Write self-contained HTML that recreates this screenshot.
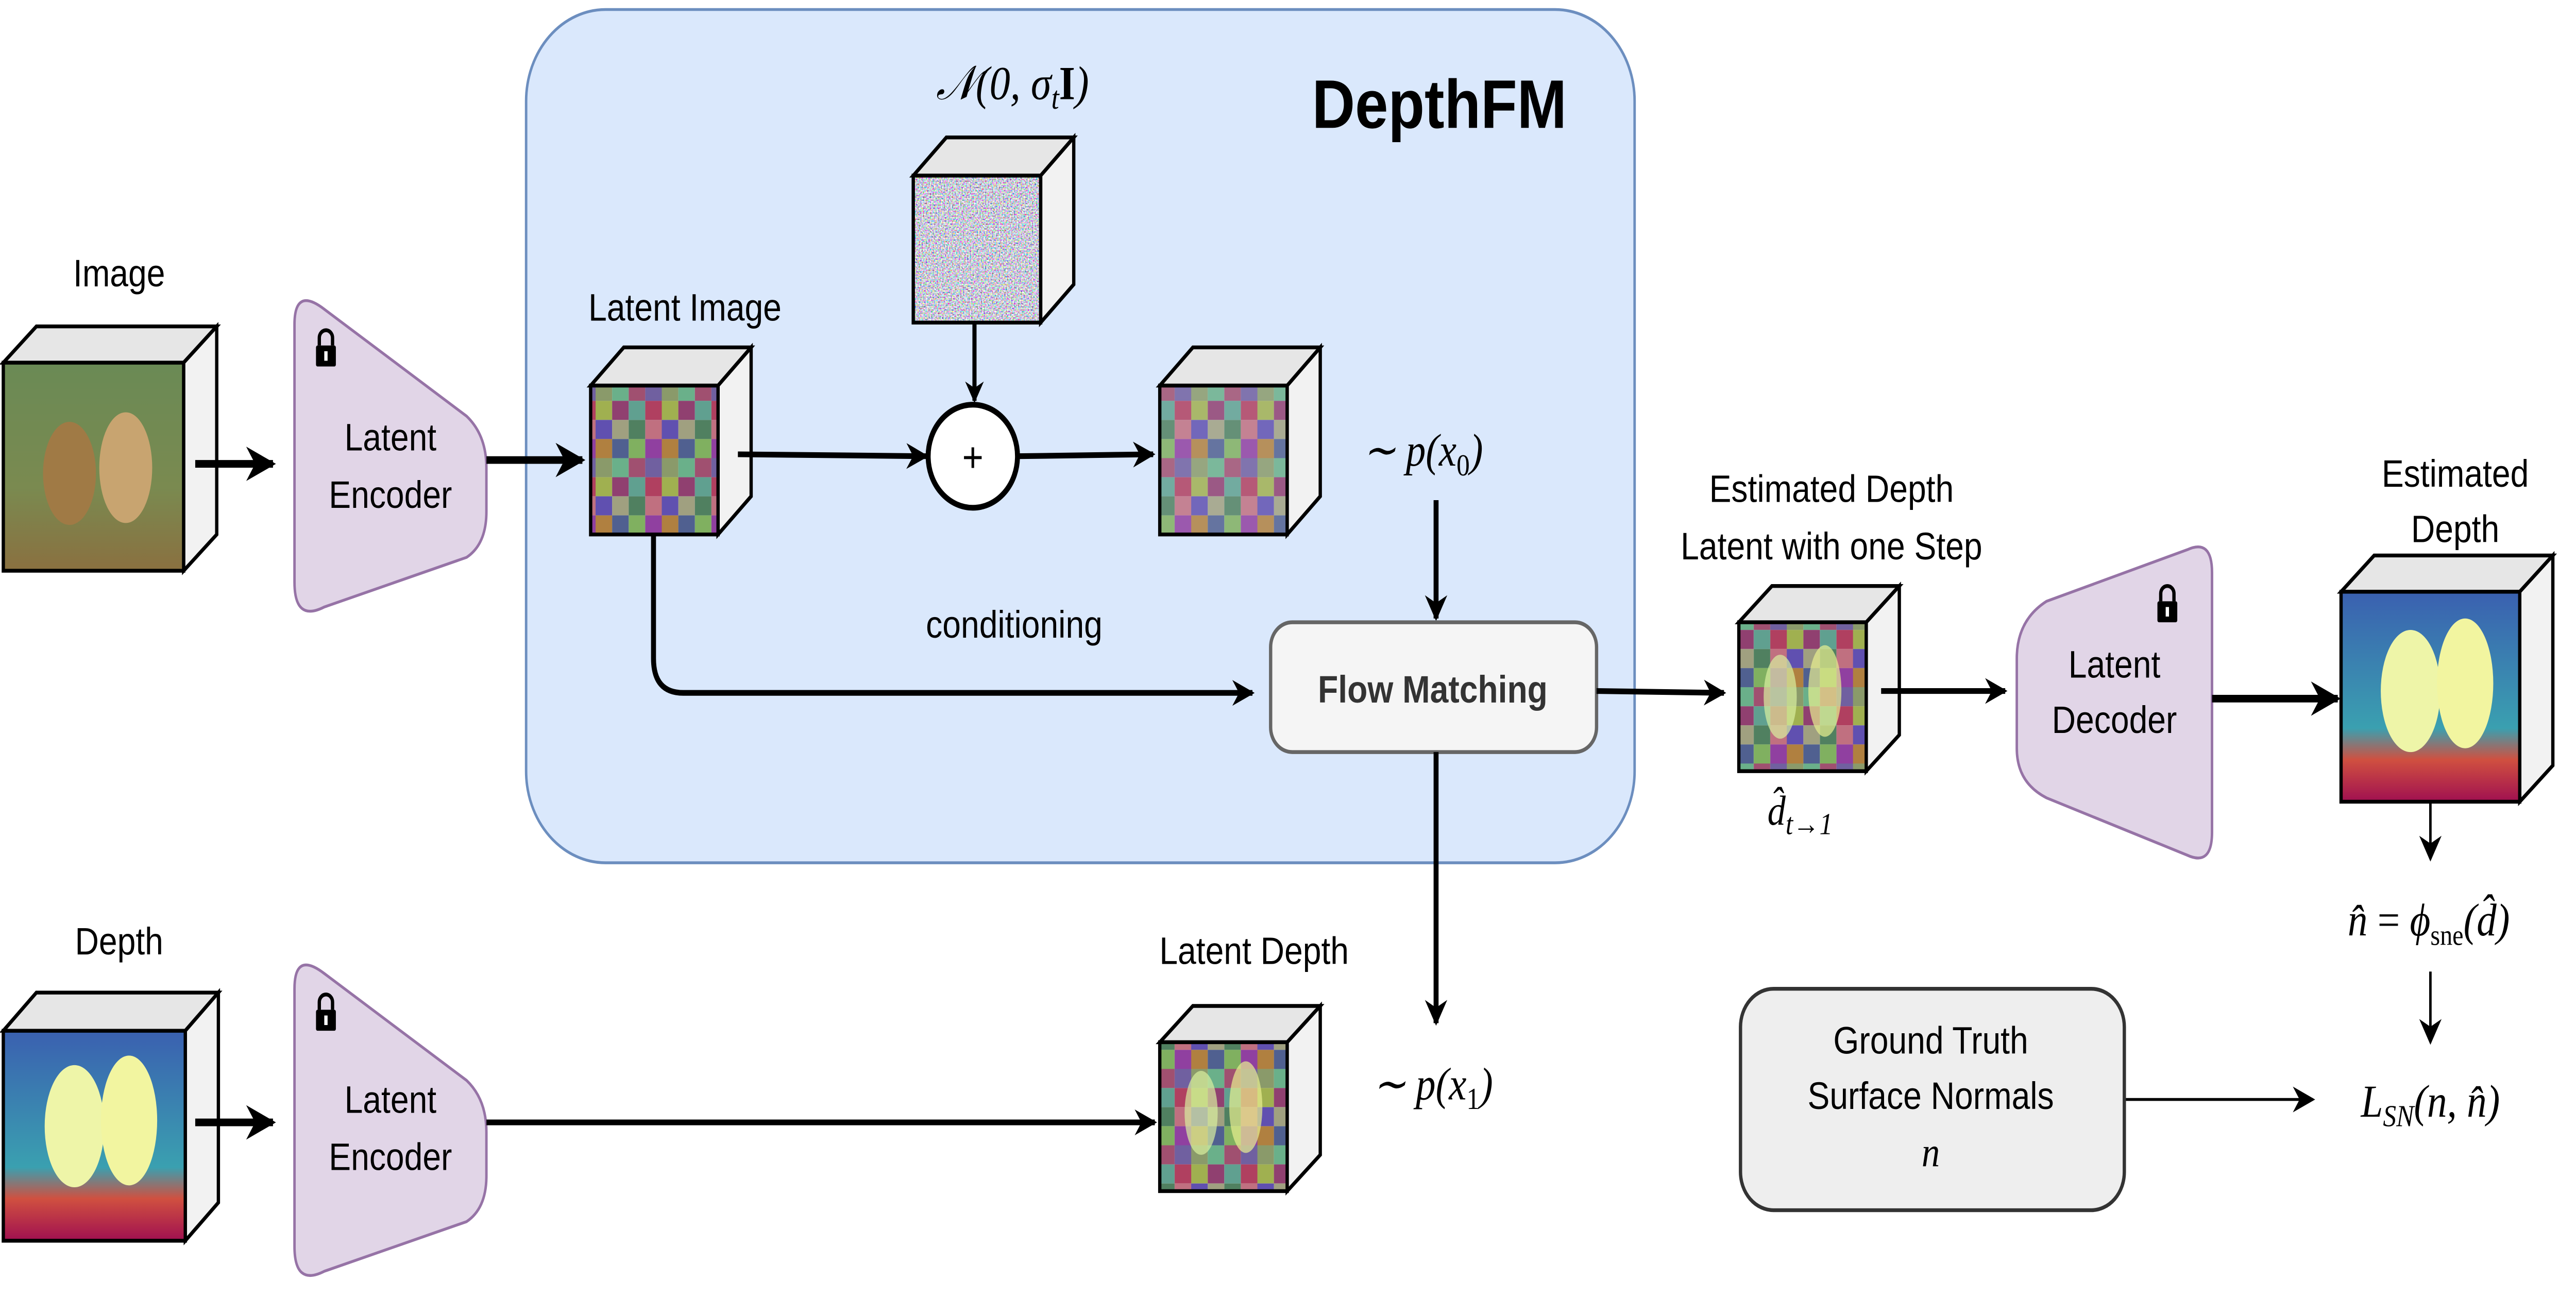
<!DOCTYPE html>
<html><head><meta charset="utf-8"><style>
html,body{margin:0;padding:0;background:#fff;width:100%;height:100%;overflow:hidden}
svg{display:block;position:absolute;left:0;top:0;width:100vw;height:100vh}
text{font-family:"Liberation Sans",sans-serif}
.m{font-family:"Liberation Serif",serif;font-style:italic}
</style></head><body>
<svg viewBox="0 0 1557 680" preserveAspectRatio="none" xmlns="http://www.w3.org/2000/svg">
<defs>
<marker id="ah" viewBox="0 0 10 10" refX="9" refY="5" markerWidth="4.5" markerHeight="4.5" orient="auto" markerUnits="strokeWidth"><path d="M0,0 L10,5 L0,10 L3,5z" fill="#000"/></marker>
<marker id="ah2" viewBox="0 0 10 10" refX="9" refY="5" markerWidth="9" markerHeight="9" orient="auto" markerUnits="strokeWidth"><path d="M0,0 L10,5 L0,10 L3,5z" fill="#000"/></marker>
<pattern id="grid" width="40" height="40" patternUnits="userSpaceOnUse">
<rect width="10" height="10" fill="#8a9a6a"/><rect x="10" width="10" height="10" fill="#6ab08a"/><rect x="20" width="10" height="10" fill="#a05070"/><rect x="30" width="10" height="10" fill="#7060a0"/>
<rect y="10" width="10" height="10" fill="#a0b050"/><rect x="10" y="10" width="10" height="10" fill="#904070"/><rect x="20" y="10" width="10" height="10" fill="#60a090"/><rect x="30" y="10" width="10" height="10" fill="#b04060"/>
<rect y="20" width="10" height="10" fill="#6050b0"/><rect x="10" y="20" width="10" height="10" fill="#a0a080"/><rect x="20" y="20" width="10" height="10" fill="#508060"/><rect x="30" y="20" width="10" height="10" fill="#c07080"/>
<rect y="30" width="10" height="10" fill="#b08040"/><rect x="10" y="30" width="10" height="10" fill="#506090"/><rect x="20" y="30" width="10" height="10" fill="#80b060"/><rect x="30" y="30" width="10" height="10" fill="#9040a0"/>
</pattern>
<filter id="noise" x="0" y="0" width="100%" height="100%"><feTurbulence type="fractalNoise" baseFrequency="1.2" numOctaves="1" seed="3"/><feColorMatrix type="matrix" values="2.2 0 0 0 -0.5  0 2.2 0 0 -0.5  0 0 2.2 0 -0.4  0 0 0 0 1"/></filter>
<linearGradient id="img" x1="0" y1="0" x2="0" y2="1"><stop offset="0" stop-color="#6a8a55"/><stop offset="0.6" stop-color="#7a8a50"/><stop offset="1" stop-color="#8a7040"/></linearGradient>
<linearGradient id="dep" x1="0" y1="0" x2="0" y2="1"><stop offset="0" stop-color="#3a60b0"/><stop offset="0.65" stop-color="#3aa0b0"/><stop offset="0.8" stop-color="#d05040"/><stop offset="1" stop-color="#a01050"/></linearGradient>
<g id="lock"><path d="M-4,-2 v-4 a4,4 0 0 1 8,0 v4" fill="none" stroke="#000" stroke-width="2"/><rect x="-6" y="-2" width="12" height="11" rx="1" fill="#000"/><rect x="-1" y="1" width="2" height="5" fill="#fff"/></g>
</defs>

<rect x="318" y="5" width="670" height="447" rx="48" fill="#dae8fc" stroke="#6c8ebf" stroke-width="1.5"/>
<text x="870" y="67" font-size="36" font-weight="bold" text-anchor="middle">DepthFM</text>
<text x="612" y="52" font-size="25" text-anchor="middle" class="m">𝒩(0, σ<tspan font-size="17" dy="5">t</tspan><tspan dy="-5" font-style="normal" font-weight="bold">I</tspan>)</text>

<polygon points="2,190 22,171 131,171 111,190" fill="#e6e6e6" stroke="#000" stroke-width="2"/>
<polygon points="111,190 131,171 131,280 111,299" fill="#f2f2f2" stroke="#000" stroke-width="2"/>
<rect x="2" y="190" width="109" height="109" fill="url(#img)" stroke="#000" stroke-width="2"/>
<ellipse cx="42" cy="248" rx="16" ry="27" fill="#a07a45"/><ellipse cx="76" cy="245" rx="16" ry="29" fill="#c8a470"/>
<text x="72" y="150" font-size="20" text-anchor="middle">Image</text>
<line x1="118" y1="243" x2="165" y2="243" stroke="#000" stroke-width="4" marker-end="url(#ah)"/>

<path d="M178,170 Q178,150 196,162 L282,218 Q294,228 294,245 L294,268 Q294,285 282,292 L196,318 Q178,326 178,305 Z" fill="#e1d5e7" stroke="#9673a6" stroke-width="1.5"/>
<use href="#lock" x="197" y="183"/>
<text x="236" y="236" font-size="20" text-anchor="middle">Latent</text>
<text x="236" y="266" font-size="20" text-anchor="middle">Encoder</text>
<line x1="294" y1="241" x2="352" y2="241" stroke="#000" stroke-width="4" marker-end="url(#ah)"/>

<text x="414" y="168" font-size="20" text-anchor="middle">Latent Image</text>
<polygon points="357,202 377,182 454,182 434,202" fill="#e6e6e6" stroke="#000" stroke-width="2"/>
<polygon points="434,202 454,182 454,260 434,280" fill="#f2f2f2" stroke="#000" stroke-width="2"/>
<rect x="357" y="202" width="77" height="78" fill="url(#grid)" stroke="#000" stroke-width="2"/>

<polygon points="552,92 572,72 649,72 629,92" fill="#e6e6e6" stroke="#000" stroke-width="2"/>
<polygon points="629,92 649,72 649,149 629,169" fill="#f2f2f2" stroke="#000" stroke-width="2"/>
<rect x="552" y="92" width="77" height="77" fill="#8a7a90" filter="url(#noise)"/>
<rect x="552" y="92" width="77" height="77" fill="none" stroke="#000" stroke-width="2"/>
<line x1="589" y1="169" x2="589" y2="210" stroke="#000" stroke-width="2.5" marker-end="url(#ah)"/>

<line x1="446" y1="238" x2="560" y2="239" stroke="#000" stroke-width="3" marker-end="url(#ah)"/>
<circle cx="588" cy="239" r="27" fill="#fff" stroke="#000" stroke-width="3"/>
<text x="588" y="247" font-size="22" text-anchor="middle">+</text>
<line x1="615" y1="239" x2="697" y2="238" stroke="#000" stroke-width="3" marker-end="url(#ah)"/>

<polygon points="701,202 721,182 798,182 778,202" fill="#e6e6e6" stroke="#000" stroke-width="2"/>
<polygon points="778,202 798,182 798,260 778,280" fill="#f2f2f2" stroke="#000" stroke-width="2"/>
<rect x="701" y="202" width="77" height="78" fill="url(#grid)" opacity="0.85"/>
<rect x="701" y="202" width="77" height="78" fill="none" stroke="#000" stroke-width="2"/>
<text x="860" y="244" font-size="24" text-anchor="middle" class="m">∼ p(x<tspan font-size="16" dy="5" font-style="normal">0</tspan><tspan dy="-5">)</tspan></text>
<line x1="868" y1="262" x2="868" y2="324" stroke="#000" stroke-width="3" marker-end="url(#ah)"/>

<text x="613" y="334" font-size="20" text-anchor="middle">conditioning</text>
<path d="M395,280 L395,345 Q395,363 413,363 L757,363" fill="none" stroke="#000" stroke-width="3" marker-end="url(#ah)"/>

<rect x="768" y="326" width="197" height="68" rx="13" fill="#f5f5f5" stroke="#666" stroke-width="2"/>
<text x="866" y="368" font-size="20" font-weight="bold" fill="#333" text-anchor="middle">Flow Matching</text>
<line x1="965" y1="362" x2="1042" y2="363" stroke="#000" stroke-width="3" marker-end="url(#ah)"/>
<line x1="868" y1="394" x2="868" y2="536" stroke="#000" stroke-width="3" marker-end="url(#ah)"/>

<text x="1107" y="263" font-size="20" text-anchor="middle">Estimated Depth</text>
<text x="1107" y="293" font-size="20" text-anchor="middle">Latent with one Step</text>
<polygon points="1051,326 1071,307 1148,307 1128,326" fill="#e6e6e6" stroke="#000" stroke-width="2"/>
<polygon points="1128,326 1148,307 1148,385 1128,404" fill="#f2f2f2" stroke="#000" stroke-width="2"/>
<rect x="1051" y="326" width="77" height="78" fill="url(#grid)"/>
<ellipse cx="1076" cy="365" rx="10" ry="22" fill="#d8f0a0" opacity="0.7"/><ellipse cx="1103" cy="362" rx="10" ry="24" fill="#e8f090" opacity="0.7"/>
<rect x="1051" y="326" width="77" height="78" fill="none" stroke="#000" stroke-width="2"/>
<text x="1088" y="432" font-size="22" text-anchor="middle" class="m">d̂<tspan font-size="16" dy="5">t→1</tspan></text>
<line x1="1137" y1="362" x2="1212" y2="362" stroke="#000" stroke-width="3" marker-end="url(#ah)"/>

<path d="M1219,345 Q1219,325 1237,315 L1322,288 Q1337,282 1337,300 L1337,436 Q1337,454 1322,448 L1237,418 Q1219,410 1219,392 Z" fill="#e1d5e7" stroke="#9673a6" stroke-width="1.5"/>
<use href="#lock" x="1310" y="317"/>
<text x="1278" y="355" font-size="20" text-anchor="middle">Latent</text>
<text x="1278" y="384" font-size="20" text-anchor="middle">Decoder</text>
<line x1="1337" y1="366" x2="1413" y2="366" stroke="#000" stroke-width="4" marker-end="url(#ah)"/>

<text x="1484" y="255" font-size="20" text-anchor="middle">Estimated</text>
<text x="1484" y="284" font-size="20" text-anchor="middle">Depth</text>
<polygon points="1415,310 1435,291 1543,291 1523,310" fill="#e6e6e6" stroke="#000" stroke-width="2"/>
<polygon points="1523,310 1543,291 1543,401 1523,420" fill="#f2f2f2" stroke="#000" stroke-width="2"/>
<rect x="1415" y="310" width="108" height="110" fill="url(#dep)"/>
<ellipse cx="1457" cy="362" rx="18" ry="32" fill="#eef5a8"/><ellipse cx="1490" cy="358" rx="17" ry="34" fill="#f2f5a0"/>
<rect x="1415" y="310" width="108" height="110" fill="none" stroke="#000" stroke-width="2"/>
<line x1="1469" y1="420" x2="1469" y2="450" stroke="#000" stroke-width="1.5" marker-end="url(#ah2)"/>
<text x="1468" y="490" font-size="24" text-anchor="middle" class="m">n̂ <tspan font-style="normal">=</tspan> ϕ<tspan font-size="15" dy="5" font-style="normal">sne</tspan><tspan dy="-5">(d̂)</tspan></text>
<line x1="1469" y1="509" x2="1469" y2="546" stroke="#000" stroke-width="1.5" marker-end="url(#ah2)"/>
<text x="1469" y="585" font-size="24" text-anchor="middle" class="m">L<tspan font-size="16" dy="5">SN</tspan><tspan dy="-5">(n, n̂)</tspan></text>

<rect x="1052" y="518" width="232" height="116" rx="20" fill="#eeeeee" stroke="#333" stroke-width="2"/>
<text x="1167" y="552" font-size="20" text-anchor="middle">Ground Truth</text>
<text x="1167" y="581" font-size="20" text-anchor="middle">Surface Normals</text>
<text x="1167" y="611" font-size="22" text-anchor="middle" class="m">n</text>
<line x1="1285" y1="576" x2="1398" y2="576" stroke="#000" stroke-width="1.5" marker-end="url(#ah2)"/>

<text x="72" y="500" font-size="20" text-anchor="middle">Depth</text>
<polygon points="2,540 22,520 132,520 112,540" fill="#e6e6e6" stroke="#000" stroke-width="2"/>
<polygon points="112,540 132,520 132,630 112,650" fill="#f2f2f2" stroke="#000" stroke-width="2"/>
<rect x="2" y="540" width="110" height="110" fill="url(#dep)"/>
<ellipse cx="45" cy="590" rx="18" ry="32" fill="#eef5a8"/><ellipse cx="78" cy="587" rx="17" ry="34" fill="#f2f5a0"/>
<rect x="2" y="540" width="110" height="110" fill="none" stroke="#000" stroke-width="2"/>
<line x1="118" y1="588" x2="165" y2="588" stroke="#000" stroke-width="4" marker-end="url(#ah)"/>

<path d="M178,518 Q178,498 196,510 L282,566 Q294,576 294,593 L294,616 Q294,633 282,640 L196,666 Q178,674 178,653 Z" fill="#e1d5e7" stroke="#9673a6" stroke-width="1.5"/>
<use href="#lock" x="197" y="531"/>
<text x="236" y="583" font-size="20" text-anchor="middle">Latent</text>
<text x="236" y="613" font-size="20" text-anchor="middle">Encoder</text>
<line x1="294" y1="588" x2="698" y2="588" stroke="#000" stroke-width="3" marker-end="url(#ah)"/>

<text x="758" y="505" font-size="20" text-anchor="middle">Latent Depth</text>
<polygon points="701,546 721,527 798,527 778,546" fill="#e6e6e6" stroke="#000" stroke-width="2"/>
<polygon points="778,546 798,527 798,605 778,624" fill="#f2f2f2" stroke="#000" stroke-width="2"/>
<rect x="701" y="546" width="77" height="78" fill="url(#grid)"/>
<ellipse cx="726" cy="583" rx="10" ry="22" fill="#d8f0a0" opacity="0.7"/><ellipse cx="753" cy="580" rx="10" ry="24" fill="#e8f090" opacity="0.7"/>
<rect x="701" y="546" width="77" height="78" fill="none" stroke="#000" stroke-width="2"/>
<text x="866" y="576" font-size="24" text-anchor="middle" class="m">∼ p(x<tspan font-size="16" dy="5" font-style="normal">1</tspan><tspan dy="-5">)</tspan></text>
</svg>
</body></html>
